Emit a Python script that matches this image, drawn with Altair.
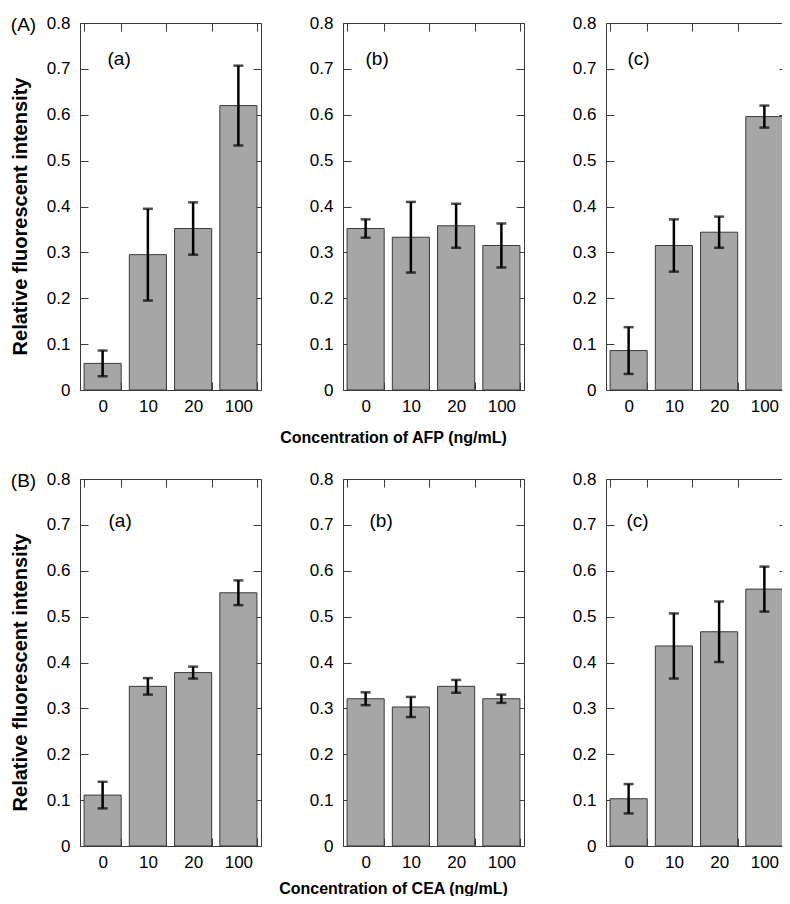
import altair as alt
import pandas as pd

# ---------------- data ----------------
concentrations = ["0", "10", "20", "100"]

afp_a_mean = [0.058, 0.295, 0.352, 0.620]
afp_a_err = [0.028, 0.100, 0.057, 0.087]
afp_b_mean = [0.352, 0.333, 0.358, 0.315]
afp_b_err = [0.020, 0.077, 0.048, 0.048]
afp_c_mean = [0.086, 0.315, 0.344, 0.596]
afp_c_err = [0.051, 0.057, 0.034, 0.024]

cea_a_mean = [0.111, 0.348, 0.378, 0.552]
cea_a_err = [0.029, 0.018, 0.013, 0.027]
cea_b_mean = [0.321, 0.303, 0.348, 0.321]
cea_b_err = [0.014, 0.022, 0.014, 0.009]
cea_c_mean = [0.103, 0.436, 0.467, 0.560]
cea_c_err = [0.032, 0.071, 0.066, 0.049]

y_ticks = [0, 0.1, 0.2, 0.3, 0.4, 0.5, 0.6, 0.7, 0.8]
row_tags = ["(A)", "(B)"]
panel_tags = ["(a)", "(b)", "(c)"]
x_titles = ["Concentration of AFP (ng/mL)", "Concentration of CEA (ng/mL)"]
y_title = "Relative fluorescent intensity"

# ---------------- style / layout ----------------
W, H = 181, 367
FONT = "Liberation Sans"
FRAME = "#3a3a3a"
TICK = 8
x_title_dy = [55, 50]
tag_offsets = {  # (dx from plot left, dy from plot top) for (a)/(b)/(c)
    (0, 0): (27, 35), (0, 1): (22, 35), (0, 2): (21, 35),
    (1, 0): (28, 41), (1, 1): (26, 41), (1, 2): (20, 41),
}

series = [
    [(afp_a_mean, afp_a_err), (afp_b_mean, afp_b_err), (afp_c_mean, afp_c_err)],
    [(cea_a_mean, cea_a_err), (cea_b_mean, cea_b_err), (cea_c_mean, cea_c_err)],
]


def make_panel(r, c, means, errs):
    df = pd.DataFrame({"conc": concentrations, "mean": means, "err": errs})
    df["lo"] = df["mean"] - df["err"]
    df["hi"] = df["mean"] + df["err"]

    xs = alt.Scale(domain=concentrations, paddingInner=0.18, paddingOuter=0.09)
    ys = alt.Scale(domain=[0, 0.8], nice=False, zero=False)

    bottom_kw = dict(orient="bottom", offset=-TICK, tickSize=TICK, tickBand="extent",
                     domain=False, labelAngle=0, labelPadding=8, labelFontSize=17)
    if c == 1:
        bottom_kw.update(title=x_titles[r], titleX=50, titleY=x_title_dy[r], titleAlign="center",
                         titleBaseline="middle", titleFontSize=16, titleFontWeight="bold")
    else:
        bottom_kw.update(title=None)

    left_kw = dict(orient="left", offset=-TICK, tickSize=TICK, domain=False,
                   values=y_ticks, labelPadding=10, labelFontSize=17,
                   labelExpr="datum.value == 0 ? '0' : format(datum.value, '.1f')")
    if c == 0:
        left_kw.update(title=y_title, titleX=-68, titleY=193, titleAngle=270,
                       titleAlign="center", titleBaseline="middle",
                       titleFontSize=20, titleFontWeight="bold")
    else:
        left_kw.update(title=None)

    top_kw = dict(orient="top", offset=-TICK, tickSize=TICK, tickBand="extent",
                  domain=False, labels=False)
    if c == 0:
        top_kw.update(title=row_tags[r], titleX=-57, titleY=-7, titleAngle=0,
                      titleAlign="center", titleBaseline="middle",
                      titleFontSize=19, titleFontWeight="normal")
    else:
        top_kw.update(title=None)

    tdx, tdy = tag_offsets[(r, c)]
    right_kw = dict(orient="right", offset=-TICK, tickSize=TICK, domain=False,
                    values=y_ticks, labels=False, minExtent=0,
                    title=panel_tags[c], titleX=tdx - (W - TICK), titleY=tdy,
                    titleAngle=0, titleAlign="left", titleBaseline="middle",
                    titleFontSize=19, titleFontWeight="normal")

    base = alt.Chart(df)
    bars = base.mark_bar(fill="#a6a6a6", stroke=FRAME, strokeWidth=1).encode(
        x=alt.X("conc:N", sort=concentrations, scale=xs, axis=alt.Axis(**bottom_kw)),
        y=alt.Y("mean:Q", scale=ys, axis=alt.Axis(**left_kw)),
    )
    rule = base.mark_rule(color="#000000", strokeWidth=2.5).encode(
        x=alt.X("conc:N", sort=concentrations),
        y="lo:Q",
        y2="hi:Q",
    )
    cap_hi = base.mark_tick(color="#000000", thickness=2.5, size=10).encode(
        x=alt.X("conc:N", sort=concentrations), y="hi:Q")
    cap_lo = base.mark_tick(color="#000000", thickness=2.5, size=10).encode(
        x=alt.X("conc:N", sort=concentrations), y="lo:Q")
    inner = alt.layer(bars, rule, cap_hi, cap_lo)

    overlay = base.mark_bar(opacity=0).encode(
        x=alt.X("conc:N", sort=concentrations, scale=xs, axis=alt.Axis(**top_kw)),
        y=alt.Y("mean:Q", scale=ys, axis=alt.Axis(**right_kw)),
    )
    return alt.layer(inner, overlay).resolve_scale(x="independent", y="independent").properties(
        width=W, height=H)


panels = []
for r in range(2):
    for c in range(3):
        m, e = series[r][c]
        panels.append(make_panel(r, c, m, e))

# fixed 774 x 888 canvas (the page body); the first plot's origin sits at (72, 15)
chart = alt.concat(
    *panels, columns=3, spacing={"row": 89, "column": 82}, bounds="flush"
).properties(
    autosize=alt.AutoSizeParams(type="none"),
    padding={"left": 72, "top": 15, "right": 702, "bottom": 873},
).configure_view(
    stroke=FRAME, strokeWidth=1
).configure_axis(
    labelFont=FONT, titleFont=FONT, labelColor="#000000", titleColor="#000000",
    tickColor=FRAME, tickWidth=1, grid=False
).configure_tick(
    bandSize=10
)

chart.save("out.html", embed_options={"renderer": "svg", "actions": False})
